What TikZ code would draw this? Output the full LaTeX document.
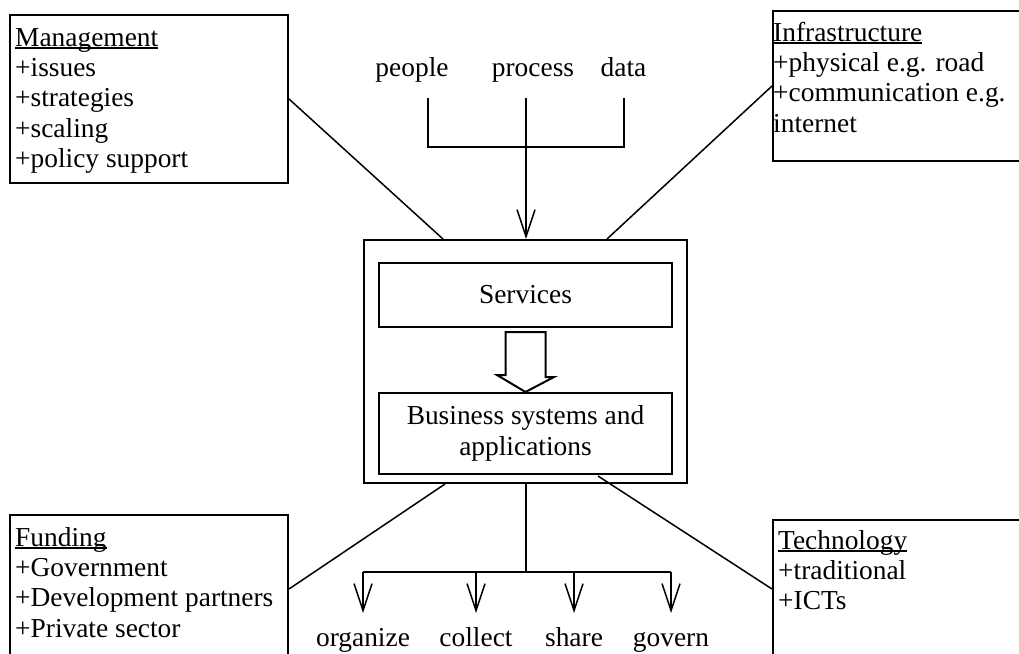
\documentclass[tikz,border=0pt]{standalone}
\usepackage{fontspec}
\setmainfont{Liberation Serif}
\usetikzlibrary{arrows.meta,calc}
% underline drawn through the descenders, as in a word processor
\newcommand\ulword[1]{\setbox0\hbox{#1}\rlap{\rule[-2.6pt]{\wd0}{1.3pt}}\box0}
\begin{document}
\begin{tikzpicture}[x=1pt,y=-1pt,
  every node/.style={font=\fontsize{27.4}{30.4}\selectfont, inner sep=0pt},
  frame/.style={draw, line width=2pt, anchor=north west},
  link/.style={line width=1.5pt},
  arr/.style={link, -{Straight Barb[length=27pt,width=18pt,line width=1.5pt]}},
  list/.style={anchor=base west},
  label/.style={anchor=base}
]
\useasboundingbox (0,0) rectangle (1019,653);
\fill[white] (0,0) rectangle (1019,653);
\clip (0,0) rectangle (1019,653);

% outer frames of the four factor groups
\node[frame, minimum width=278pt, minimum height=168pt] (mgmt)  at (9,14)   {};
\node[frame, minimum width=278pt, minimum height=150pt] (infra) at (772,10) {};
\node[frame, minimum width=278pt, minimum height=148pt] (fund)  at (9,514)  {};
\node[frame, minimum width=278pt, minimum height=138pt] (tech)  at (772,519) {};

% factor lists
\node[list] (mgmtText) at (15,46) {\begin{tabular}[t]{@{}l@{}}\ulword{Management}\\+issues\\+strategies\\+scaling\\+policy support\end{tabular}};
\node[list] (infraText) at (773,41) {\begin{tabular}[t]{@{}l@{}}\ulword{Infrastructure}\\+physical e.g. road\\+communication e.g.\\internet\end{tabular}};
\node[list] (fundText) at (15,546) {\begin{tabular}[t]{@{}l@{}}\ulword{Funding}\\+Government\\+Development partners\\+Private sector\end{tabular}};
\node[list] (techText) at (778,549) {\begin{tabular}[t]{@{}l@{}}\ulword{Technology}\\+traditional\\+ICTs\end{tabular}};

% central block
\node[frame, minimum width=323pt, minimum height=243pt] (core) at (363,239) {};
\node[frame, minimum width=293pt, minimum height=64pt] (svc) at (378,262) {Services};
\node[frame, minimum width=293pt, minimum height=81pt, align=center,
      font=\fontsize{27.4}{31}\selectfont] (biz) at (378,392) {Business systems and\\applications};

% hollow block arrow from services to business systems
\draw[line width=2pt] ($(svc.south)+(-20,4)$) -- ++(40,0) -- ++(0,45) -- ++(8.5,0)
  -- (biz.north) -- ++(-28.5,-17) -- ++(8.5,0) -- cycle;

% group frames tied to the central block
\draw[link] (mgmt.east)  -- ([xshift=80pt]core.north west);
\draw[link] (infra.west) -- ([xshift=244pt]core.north west);
\draw[link] (fund.east)  -- ([xshift=82pt]core.south west);
\draw[link] (tech.west)  -- ([xshift=235pt,yshift=8pt]core.south west);

% inputs: people, process, data
\node[label] (people)  at (412,76)   {people};
\node[label] (process) at (533,76)   {process};
\node[label] (data)    at (623.5,76) {data};
\coordinate (peopleTop) at (428,98);
\coordinate (procTop)   at (526,98);
\coordinate (dataTop)   at (624,98);
\coordinate (inBar)     at (526,147);
\draw[link] (peopleTop) -- (peopleTop |- inBar) -- (dataTop |- inBar) -- (dataTop);
\draw[arr] (procTop) -- (procTop |- core.north);

% outputs: organize, collect, share, govern
\node[label] (organize) at (363,646) {organize};
\node[label] (collect)  at (476,646) {collect};
\node[label] (share)    at (574,646) {share};
\node[label] (govern)   at (671,646) {govern};
\coordinate (outBar)  at (526,572);
\coordinate (outTips) at (526,613);
\draw[link] (outBar |- core.south) -- (outBar);
\draw[link] (outBar -| organize) -- (outBar -| govern);
\foreach \o in {organize,collect,share,govern}
  \draw[arr] (outBar -| \o) -- (outTips -| \o);
\end{tikzpicture}
\end{document}
